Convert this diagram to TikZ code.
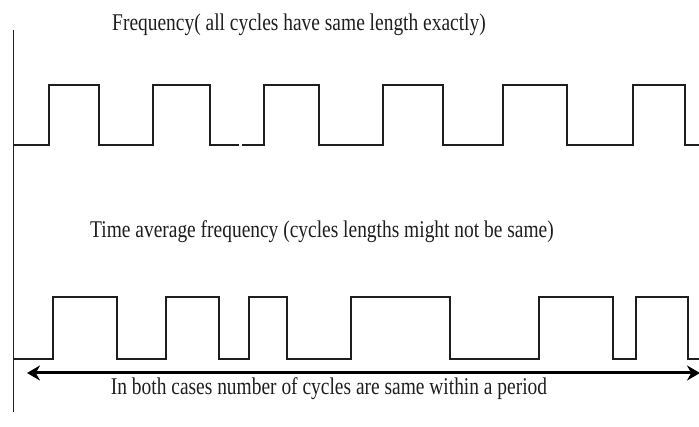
\documentclass[tikz,border=0pt]{standalone}
\usepackage{fontspec}
\setmainfont{Liberation Serif}
\usepackage{xcolor}
\definecolor{ink}{RGB}{30,30,30}
\usepackage{tikz}
\usetikzlibrary{arrows.meta,positioning}

\begin{document}
\begin{tikzpicture}[
  x=1pt,y=-1pt,
  caption/.style={font=\fontsize{24}{28}\selectfont\color{ink},inner sep=0pt,
              xscale=0.81,transform shape},
  wave/.style={draw=ink,line width=1.5pt,line join=miter},
  axisline/.style={draw=ink,line width=1pt},
  span/.style={draw=black,line width=3pt,
               {Stealth[length=13pt,width=15pt]}-{Stealth[length=13pt,width=15pt]}},
]
  \useasboundingbox (0,0) rectangle (699,427);

  % axis
  \coordinate (T) at (13,30);
  \coordinate (B) at (13,412);
  \draw[axisline] (T) -- (B);

  % exact frequency
  \node[caption](F) at (299,25) {Frequency( all cycles have same length exactly)};
  \draw[wave] (13,145)
    \foreach \a/\b in {49/99,153/210}{ -- (\a,145) -- (\a,85) -- (\b,85) -- (\b,145) }
    -- (239,145);
  \draw[wave] (242,145)
    \foreach \a/\b in {264/319,383/443,503/567,633/685}{ -- (\a,145) -- (\a,85) -- (\b,85) -- (\b,145) }
    -- (699,145);

  % time average frequency
  \node[caption](TA) at (322,232) {Time average frequency (cycles lengths might not be same)};
  \draw[wave] (13,359)
    \foreach \a/\b in {53/117,166/219,249/287,351/450,539/613,636/688}{ -- (\a,359) -- (\a,297) -- (\b,297) -- (\b,359) }
    -- (699,359);

  % period
  \coordinate (L) at (27,373);
  \coordinate (R) at (700,373);
  \draw[span] (L) -- (R);
  \node[caption](P) at (329,389) {In both cases number of cycles are same within a period};
\end{tikzpicture}
\end{document}
